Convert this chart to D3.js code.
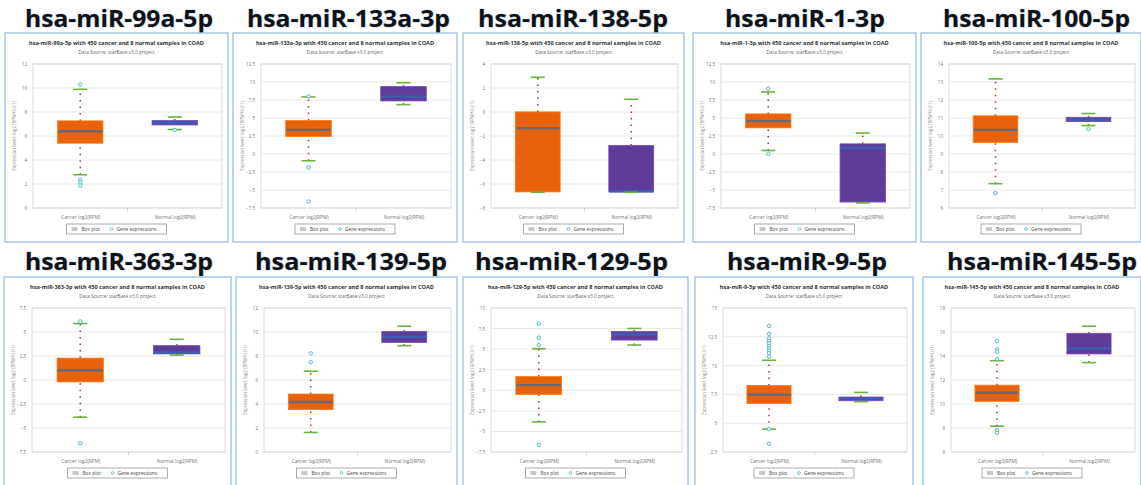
<!DOCTYPE html>
<html>
<head>
<meta charset="utf-8">
<script src="https://cdn.jsdelivr.net/npm/d3@7"></script>
<style>
  body { margin: 0; background: #fff; }
  svg { display: block; }
</style>
</head>
<body>
<div id="chart"></div>
<script>
"use strict";

// ---- data ----
const mirnas = ["hsa-miR-99a-5p", "hsa-miR-133a-3p", "hsa-miR-138-5p", "hsa-miR-1-3p", "hsa-miR-100-5p",
                "hsa-miR-363-3p", "hsa-miR-139-5p", "hsa-miR-129-5p", "hsa-miR-9-5p", "hsa-miR-145-5p"];

const groups = ["Cancer log2(RPM)", "Normal log2(RPM)"];

const yTicks = [
    [0, 2, 4, 6, 8, 10, 12],
    [-7.5, -5, -2.5, 0, 2.5, 5, 7.5, 10, 12.5],
    [-8, -6, -4, -2, 0, 2, 4],
    [-7.5, -5, -2.5, 0, 2.5, 5, 7.5, 10, 12.5],
    [6, 7, 8, 9, 10, 11, 12, 13, 14],
    [-7.5, -5, -2.5, 0, 2.5, 5, 7.5],
    [0, 2, 4, 6, 8, 10, 12],
    [-7.5, -5, -2.5, 0, 2.5, 5, 7.5, 10],
    [2.5, 5, 7.5, 10, 12.5, 15],
    [6, 8, 10, 12, 14, 16, 18]
];

// [lower whisker, q1, median, q3, upper whisker]
const cancerStats = [
    [2.77, 5.4, 6.4, 7.26, 9.89],
    [-0.94, 2.43, 3.35, 4.65, 7.93],
    [-6.69, -6.66, -1.35, 0.01, 2.89],
    [0.49, 3.63, 4.56, 5.57, 8.62],
    [7.35, 9.64, 10.34, 11.12, 13.17],
    [-3.87, -0.2, 1.01, 2.28, 5.88],
    [1.63, 3.53, 4.17, 4.83, 6.73],
    [-3.84, -0.5, 0.63, 1.67, 5.05],
    [4.48, 6.7, 7.47, 8.28, 10.46],
    [8.15, 10.22, 10.94, 11.57, 13.61]
];
const normalStats = [
    [6.54, 6.92, 7.12, 7.29, 7.59],
    [6.86, 7.37, 7.97, 9.36, 9.9],
    [-6.69, -6.66, -6.6, -2.79, 1.06],
    [-6.8, -6.67, 0.86, 1.41, 2.9],
    [10.58, 10.8, 10.9, 11.04, 11.25],
    [2.59, 2.72, 2.86, 3.58, 4.24],
    [8.86, 9.13, 9.6, 10.04, 10.48],
    [5.5, 6.1, 6.78, 7.14, 7.51],
    [6.87, 6.95, 7.13, 7.27, 7.67],
    [13.45, 14.17, 14.63, 15.88, 16.48]
];

const cancerOutliers = [
    [10.3, 2.35, 2.13, 1.86],
    [8.0, -1.86, -6.6],
    [],
    [9.08, 0.03],
    [6.83],
    [6.09, -6.59],
    [8.22, 7.48],
    [8.11, 6.38, 5.5, -6.65],
    [13.45, 12.76, 12.36, 12.13, 11.93, 11.7, 11.5, 11.3, 11.07, 10.78, 4.48, 3.22],
    [15.24, 14.55, 14.36, 13.75, 7.82, 7.6]
];
const normalOutliers = [[6.5], [], [], [], [10.38], [], [], [], [], []];

// ---- layout ----
const width = 1141,
    height = 485;

const frames = [[5, 228], [233, 457], [463, 684], [693, 916], [921, 1141],
                [4, 231], [236, 457], [463, 688], [695, 913], [923, 1141]];
const titleSpan = [[25, 213], [247, 450], [478, 668], [725, 885], [943, 1130],
                   [25, 213], [255, 447], [475, 668], [727, 887], [947, 1137]];
const rowTop = [33, 277],
    rowBaseline = [27, 270],
    frameH = 209;

const col = {
    orange: "#e8620c",
    purple: "#5e3c99",
    medC: "#6a6a78",
    medN: "#3d5cb2",
    cap: "#6cb241",
    dots: "#a8462a",
    outlier: "#58b6c6"
};

const svg = d3.select("#chart").append("svg")
    .attr("width", width)
    .attr("height", height)
    .style("font-family", "'Open Sans', 'DejaVu Sans', sans-serif");

mirnas.forEach((name, i) => {
    const row = i < 5 ? 0 : 1;
    const [x0, x1] = frames[i];
    const y0 = rowTop[row];
    const cx = (x0 + x1) / 2;

    // big heading
    svg.append("text")
        .attr("x", titleSpan[i][0])
        .attr("y", rowBaseline[row])
        .attr("textLength", titleSpan[i][1] - titleSpan[i][0])
        .attr("lengthAdjust", "spacingAndGlyphs")
        .style("font-size", "23px")
        .style("font-weight", "bold")
        .style("fill", "#111")
        .style("paint-order", "stroke")
        .style("stroke", "#c9dcf2")
        .style("stroke-width", 1.2)
        .text(name);

    const p = svg.append("g");

    p.append("rect")
        .attr("x", x0)
        .attr("y", y0)
        .attr("width", x1 - x0)
        .attr("height", frameH)
        .attr("fill", "#fff")
        .attr("stroke", "#a8c6e6")
        .attr("stroke-width", 1.5);

    p.append("text")
        .attr("x", cx)
        .attr("y", y0 + 12)
        .attr("text-anchor", "middle")
        .style("font-size", "5.6px")
        .style("font-weight", "bold")
        .style("fill", "#333")
        .text(`${name} with 450 cancer and 8 normal samples in COAD`);

    p.append("text")
        .attr("x", cx)
        .attr("y", y0 + 21)
        .attr("text-anchor", "middle")
        .style("font-size", "4.8px")
        .style("fill", "#666")
        .text("Data Source: starBase v3.0 project");

    const left = x0 + 28,
        right = x1 - 6,
        top = y0 + 31,
        bottom = y0 + 175;

    const ticks = yTicks[i];
    const y = d3.scaleLinear()
        .domain(d3.extent(ticks))
        .range([bottom, top]);
    const x = d3.scalePoint()
        .domain(groups)
        .range([left, right])
        .padding(0.5);
    const boxW = (right - left) * 0.24;

    // grid + frame
    p.selectAll(".grid")
        .data(ticks)
        .enter()
        .append("line")
        .attr("x1", left)
        .attr("x2", right)
        .attr("y1", (d) => y(d))
        .attr("y2", (d) => y(d))
        .attr("stroke", "#e2e2e2")
        .attr("stroke-width", 0.8);

    p.append("rect")
        .attr("x", left)
        .attr("y", top)
        .attr("width", right - left)
        .attr("height", bottom - top)
        .attr("fill", "none")
        .attr("stroke", "#d4d4d4")
        .attr("stroke-width", 0.8);

    const yAxis = p.append("g")
        .attr("transform", `translate(${left},0)`)
        .call(d3.axisLeft(y).tickValues(ticks).tickSize(0).tickPadding(6)
            .tickFormat((d) => d3.format("")(d)));
    yAxis.select(".domain").remove();
    yAxis.selectAll("text")
        .style("font-size", "4.5px")
        .style("fill", "#777")
        .style("font-family", "'Open Sans', sans-serif");

    const xAxis = p.append("g")
        .attr("transform", `translate(0,${bottom})`)
        .call(d3.axisBottom(x).tickSize(0).tickPadding(8));
    xAxis.select(".domain").remove();
    xAxis.selectAll("text")
        .style("font-size", "4.8px")
        .style("fill", "#777")
        .style("font-family", "'Open Sans', sans-serif");

    // separator tick between the two groups
    p.append("line")
        .attr("x1", (left + right) / 2)
        .attr("x2", (left + right) / 2)
        .attr("y1", bottom)
        .attr("y2", bottom + 3)
        .attr("stroke", "#ccc")
        .attr("stroke-width", 0.8);

    p.append("text")
        .attr("transform", `translate(${x0 + 11},${(top + bottom) / 2}) rotate(-90)`)
        .attr("text-anchor", "middle")
        .style("font-size", "4.5px")
        .style("fill", "#888")
        .text("Expression level: log2 (RPM+0.01)");

    // boxes
    const sets = [
        {g: groups[0], s: cancerStats[i], out: cancerOutliers[i], fill: col.orange, med: col.medC},
        {g: groups[1], s: normalStats[i], out: normalOutliers[i], fill: col.purple, med: col.medN}
    ];

    sets.forEach((b) => {
        const bx = x(b.g);
        const [lo, q1, md, q3, hi] = b.s;

        // dotted whiskers
        [[q3, hi], [lo, q1]].forEach(([a, c]) => {
            p.append("line")
                .attr("x1", bx)
                .attr("x2", bx)
                .attr("y1", y(a))
                .attr("y2", y(c))
                .attr("stroke", col.dots)
                .attr("stroke-width", 1.6)
                .attr("stroke-dasharray", "1.5,5");
        });

        p.append("rect")
            .attr("x", bx - boxW / 2)
            .attr("y", y(q3))
            .attr("width", boxW)
            .attr("height", Math.max(1, y(q1) - y(q3)))
            .attr("fill", b.fill)
            .attr("stroke", d3.color(b.fill).brighter(0.6))
            .attr("stroke-width", 0.8);

        p.append("line")
            .attr("x1", bx - boxW / 2 + 0.5)
            .attr("x2", bx + boxW / 2 - 0.5)
            .attr("y1", y(md))
            .attr("y2", y(md))
            .attr("stroke", b.med)
            .attr("stroke-width", 2.4);

        [lo, hi].forEach((v) => {
            p.append("line")
                .attr("x1", bx - 7)
                .attr("x2", bx + 7)
                .attr("y1", y(v))
                .attr("y2", y(v))
                .attr("stroke", col.cap)
                .attr("stroke-width", 1.6);
        });

        p.selectAll(null)
            .data(b.out)
            .enter()
            .append("circle")
            .attr("cx", bx)
            .attr("cy", (d) => y(d))
            .attr("r", 1.8)
            .attr("fill", "#e6f5f8")
            .attr("stroke", col.outlier)
            .attr("stroke-width", 0.9);
    });

    // legend
    const lw = 100,
        lx = cx - lw / 2,
        ly = y0 + 191;
    const lg = p.append("g");
    lg.append("rect")
        .attr("x", lx)
        .attr("y", ly)
        .attr("width", lw)
        .attr("height", 10)
        .attr("fill", "#fff")
        .attr("stroke", "#999")
        .attr("stroke-width", 0.8);
    lg.append("rect")
        .attr("x", lx + 5)
        .attr("y", ly + 3)
        .attr("width", 6)
        .attr("height", 4)
        .attr("fill", "#c8c8c8");
    lg.append("text")
        .attr("x", lx + 15)
        .attr("y", ly + 6.7)
        .style("font-size", "4.8px")
        .style("fill", "#444")
        .text("Box plot");
    lg.append("circle")
        .attr("cx", lx + 45)
        .attr("cy", ly + 5)
        .attr("r", 1.4)
        .attr("fill", "none")
        .attr("stroke", col.outlier)
        .attr("stroke-width", 0.8);
    lg.append("text")
        .attr("x", lx + 50)
        .attr("y", ly + 6.7)
        .style("font-size", "4.8px")
        .style("fill", "#444")
        .text("Gene expressions");
});
</script>
</body>
</html>
